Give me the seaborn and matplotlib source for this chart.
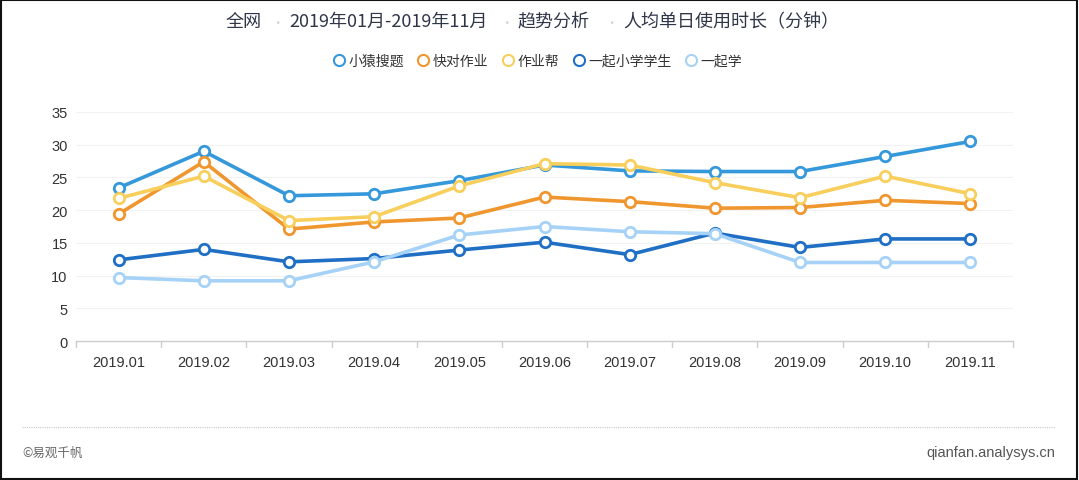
import numpy as np
import pandas as pd
import seaborn as sns
import matplotlib
matplotlib.use("Agg")
import matplotlib.pyplot as plt
from matplotlib.lines import Line2D
from matplotlib.patches import Rectangle

# data
months = ["2019.01", "2019.02", "2019.03", "2019.04", "2019.05", "2019.06",
          "2019.07", "2019.08", "2019.09", "2019.10", "2019.11"]
apps = ["小猿搜题", "快对作业", "作业帮", "一起小学学生", "一起学"]
xiaoyuan = [23.4, 29.0, 22.2, 22.5, 24.5, 26.9, 26.0, 25.9, 25.9, 28.2, 30.5]
kuaidui = [19.4, 27.4, 17.1, 18.2, 18.8, 22.0, 21.3, 20.3, 20.4, 21.5, 21.0]
zuoyebang = [21.8, 25.2, 18.4, 19.0, 23.7, 27.1, 26.9, 24.2, 21.9, 25.2, 22.5]
yiqi_xs = [12.4, 14.0, 12.1, 12.6, 13.9, 15.1, 13.2, 16.5, 14.3, 15.6, 15.6]
yiqixue = [9.7, 9.2, 9.2, 12.1, 16.2, 17.5, 16.7, 16.4, 12.0, 12.0, 12.0]
colors = ["#3498db", "#f0962e", "#f8cf5c", "#1f6fc5", "#a6d2f7"]

df = pd.DataFrame({
    "month": months * 5,
    "app": np.repeat(apps, len(months)),
    "value": xiaoyuan + kuaidui + zuoyebang + yiqi_xs + yiqixue,
})

sns.set_theme(style="white")
plt.rcParams['font.family'] = ['Noto Sans CJK SC', 'DejaVu Sans']
latin = ['Liberation Sans', 'DejaVu Sans']

fig = plt.figure(figsize=(10.79, 4.81), dpi=100)
ax = fig.add_axes([76 / 1079, 1 - 342 / 481, (1013 - 76) / 1079, (342 - 113) / 481])

sns.lineplot(data=df, x="month", y="value", hue="app", hue_order=apps,
             palette=colors, marker="o", markersize=7.5, markerfacecolor="white",
             markeredgewidth=2, linewidth=2.6, legend=False, ax=ax)
for ln in ax.lines:
    ln.set_markeredgecolor(ln.get_color())
    ln.set_markerfacecolor("white")

ax.set_xlim(-0.5, len(months) - 0.5)
ax.set_ylim(0, 35)
ax.set_yticks(range(0, 36, 5))
ax.set_xlabel("")
ax.set_ylabel("")
ax.tick_params(axis="both", labelsize=10.5, colors="#333333", length=0, pad=6)
ax.tick_params(axis="x", pad=10)
for lab in ax.get_xticklabels() + ax.get_yticklabels():
    lab.set_family(latin)
for y in range(5, 36, 5):
    ax.axhline(y, color="#f2f2f2", lw=0.8, zorder=0)
for s in ["top", "right", "left"]:
    ax.spines[s].set_visible(False)
ax.spines["bottom"].set_color("#cccccc")
ax.spines["bottom"].set_linewidth(1)
# boundary ticks between categories
for b in np.arange(-0.5, len(months), 1.0):
    ax.plot([b, b], [0, -0.9], color="#cccccc", lw=1, clip_on=False, zorder=1)

# title pieces
title_col = "#2e3648"
dot_col = "#cfd3d9"
tkw = dict(fontsize=13, color=title_col, va="center", fontweight="medium")
fig.text(226 / 1079, 1 - 22 / 481, "全网", **tkw)
fig.text(271 / 1079, 1 - 24 / 481, "•", fontsize=9, color=dot_col, va="center")
fig.text(289 / 1079, 1 - 22 / 481, "2019年01月-2019年11月", **tkw)
fig.text(500 / 1079, 1 - 24 / 481, "•", fontsize=9, color=dot_col, va="center")
fig.text(517 / 1079, 1 - 22 / 481, "趋势分析", **tkw)
fig.text(605 / 1079, 1 - 24 / 481, "•", fontsize=9, color=dot_col, va="center")
fig.text(623 / 1079, 1 - 22 / 481, "人均单日使用时长（分钟）", **tkw)

# legend
handles = [Line2D([], [], ls="none", marker="o", markersize=8, markerfacecolor="white",
                  markeredgecolor=c, markeredgewidth=1.5) for c in colors]
fig.legend(handles, apps, loc="center", bbox_to_anchor=(537 / 1079, 1 - 62 / 481),
           ncol=5, frameon=False, fontsize=10, handletextpad=0.2, columnspacing=0.9,
           handlelength=1.0, labelcolor="#333333")

# footer
fig.add_artist(Line2D([22 / 1079, 1055 / 1079], [1 - 428 / 481, 1 - 428 / 481],
                      color="#c8c8c8", lw=0.8, ls=(0, (1, 1))))
fig.text(22 / 1079, 1 - 453 / 481, "©易观千帆", fontsize=9, color="#666666", va="center")
fig.text(1055 / 1079, 1 - 453 / 481, "qianfan.analysys.cn", fontsize=10.5,
         color="#555555", va="center", ha="right", family=latin)

fig.add_artist(Rectangle((0.001, 0.002), 0.997, 0.995, transform=fig.transFigure,
                         fill=False, edgecolor="#111111", lw=1.5))

fig.savefig("out.png", dpi=100)
